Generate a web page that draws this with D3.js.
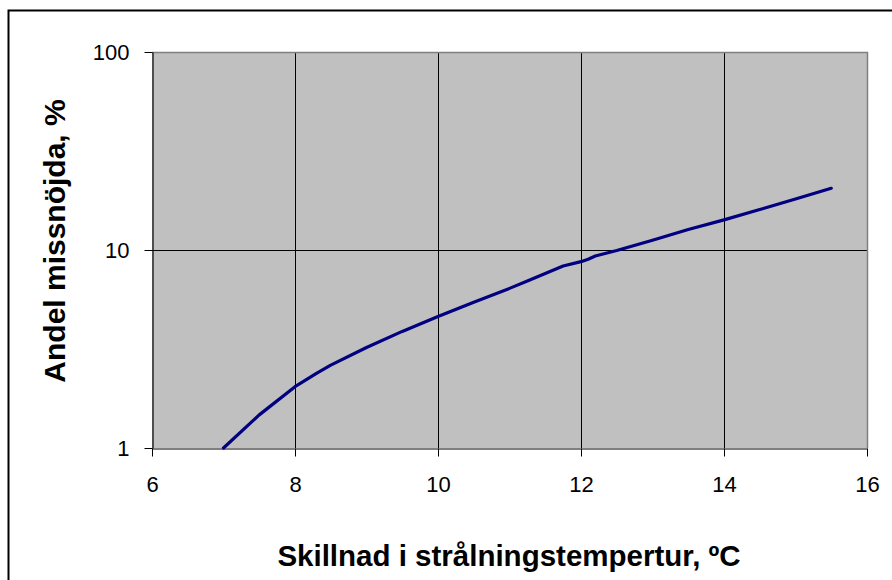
<!DOCTYPE html>
<html>
<head>
<meta charset="utf-8">
<script src="https://cdn.jsdelivr.net/npm/d3@7"></script>
<style>
  html, body { margin: 0; padding: 0; background: #fff; }
  svg { display: block; }
  text { font-family: "Liberation Sans", Arial, sans-serif; fill: #000; }
</style>
</head>
<body>
<svg id="chart" width="892" height="580"></svg>
<script>
// Data
const tempDiff = [7.0, 7.5, 8.0, 8.3, 8.5, 9.0, 9.5, 10.0, 10.5, 11.0, 11.25, 11.5, 11.75, 12.0, 12.1, 12.2, 12.5, 13.0, 13.5, 14.0, 14.5, 15.0, 15.5];
const dissatisfied = [1.0, 1.47, 2.04, 2.38, 2.62, 3.22, 3.88, 4.62, 5.45, 6.4, 6.97, 7.6, 8.3, 8.73, 8.98, 9.33, 9.95, 11.2, 12.7, 14.2, 16.0, 18.1, 20.5];
const xTicks = [6, 8, 10, 12, 14, 16];
const yTicks = [1, 10, 100];
const xTitle = "Skillnad i strålningstempertur, ºC";
const yTitle = "Andel missnöjda, %";

const svg = d3.select("#chart");
const plot = { left: 152, top: 52, right: 867, bottom: 448 };

// outer frame
svg.append("rect")
  .attr("x", 8.5).attr("y", 10.5)
  .attr("width", 920).attr("height", 620)
  .attr("fill", "#fff").attr("stroke", "#000").attr("stroke-width", 2);

const x = d3.scaleLinear().domain([6, 16]).range([plot.left, plot.right]);
const y = d3.scaleLog().domain([1, 100]).range([plot.bottom, plot.top]);

// plot background
svg.append("rect")
  .attr("x", plot.left).attr("y", plot.top)
  .attr("width", plot.right - plot.left).attr("height", plot.bottom - plot.top)
  .attr("fill", "#c0c0c0");

// gridlines
svg.append("g").selectAll("line")
  .data(xTicks.filter(d => d > 6 && d < 16)).join("line")
  .attr("x1", d => Math.round(x(d)) + 0.5).attr("x2", d => Math.round(x(d)) + 0.5)
  .attr("y1", plot.top).attr("y2", plot.bottom)
  .attr("stroke", "#000").attr("stroke-width", 1);
svg.append("g").selectAll("line")
  .data(yTicks.filter(d => d > 1 && d < 100)).join("line")
  .attr("x1", plot.left).attr("x2", plot.right)
  .attr("y1", d => Math.round(y(d)) + 0.5).attr("y2", d => Math.round(y(d)) + 0.5)
  .attr("stroke", "#000").attr("stroke-width", 1);

// gray top/right border
svg.append("path")
  .attr("d", `M${plot.left},${plot.top + 0.5}H${plot.right + 0.5}V${plot.bottom}`)
  .attr("fill", "none").attr("stroke", "#808080").attr("stroke-width", 1.5);

// axes
const xAxis = d3.axisBottom(x).tickValues(xTicks).tickFormat(d3.format("d"))
  .tickSizeInner(8).tickSizeOuter(0).tickPadding(20);
const gx = svg.append("g").attr("transform", `translate(0,${plot.bottom + 0.5})`).call(xAxis);
const yAxis = d3.axisLeft(y).tickValues(yTicks).tickFormat(d3.format("d"))
  .tickSizeInner(8).tickSizeOuter(0).tickPadding(15);
const gy = svg.append("g").attr("transform", `translate(${plot.left + 0.5},0)`).call(yAxis);

[gx, gy].forEach(g => {
  g.select(".domain").attr("stroke", "#000").attr("stroke-width", 1.2);
  g.selectAll(".tick line").attr("stroke", "#000");
  g.selectAll(".tick text")
    .attr("font-family", "'Liberation Sans', Arial, sans-serif")
    .attr("font-size", 22).attr("fill", "#000");
});

// line
const line = d3.line()
  .x((d, i) => x(tempDiff[i]))
  .y(d => y(d))
  .curve(d3.curveLinear);
svg.append("path")
  .datum(dissatisfied)
  .attr("d", line)
  .attr("fill", "none")
  .attr("stroke", "#000080")
  .attr("stroke-width", 3.2)
  .attr("stroke-linejoin", "round")
  .attr("stroke-linecap", "round");

// titles
svg.append("text")
  .attr("x", 509).attr("y", 566)
  .attr("text-anchor", "middle")
  .attr("font-size", 29.5).attr("font-weight", "bold")
  .text(xTitle);
svg.append("text")
  .attr("transform", `translate(65,241) rotate(-90)`)
  .attr("text-anchor", "middle")
  .attr("font-size", 30).attr("font-weight", "bold")
  .text(yTitle);
</script>
</body>
</html>
